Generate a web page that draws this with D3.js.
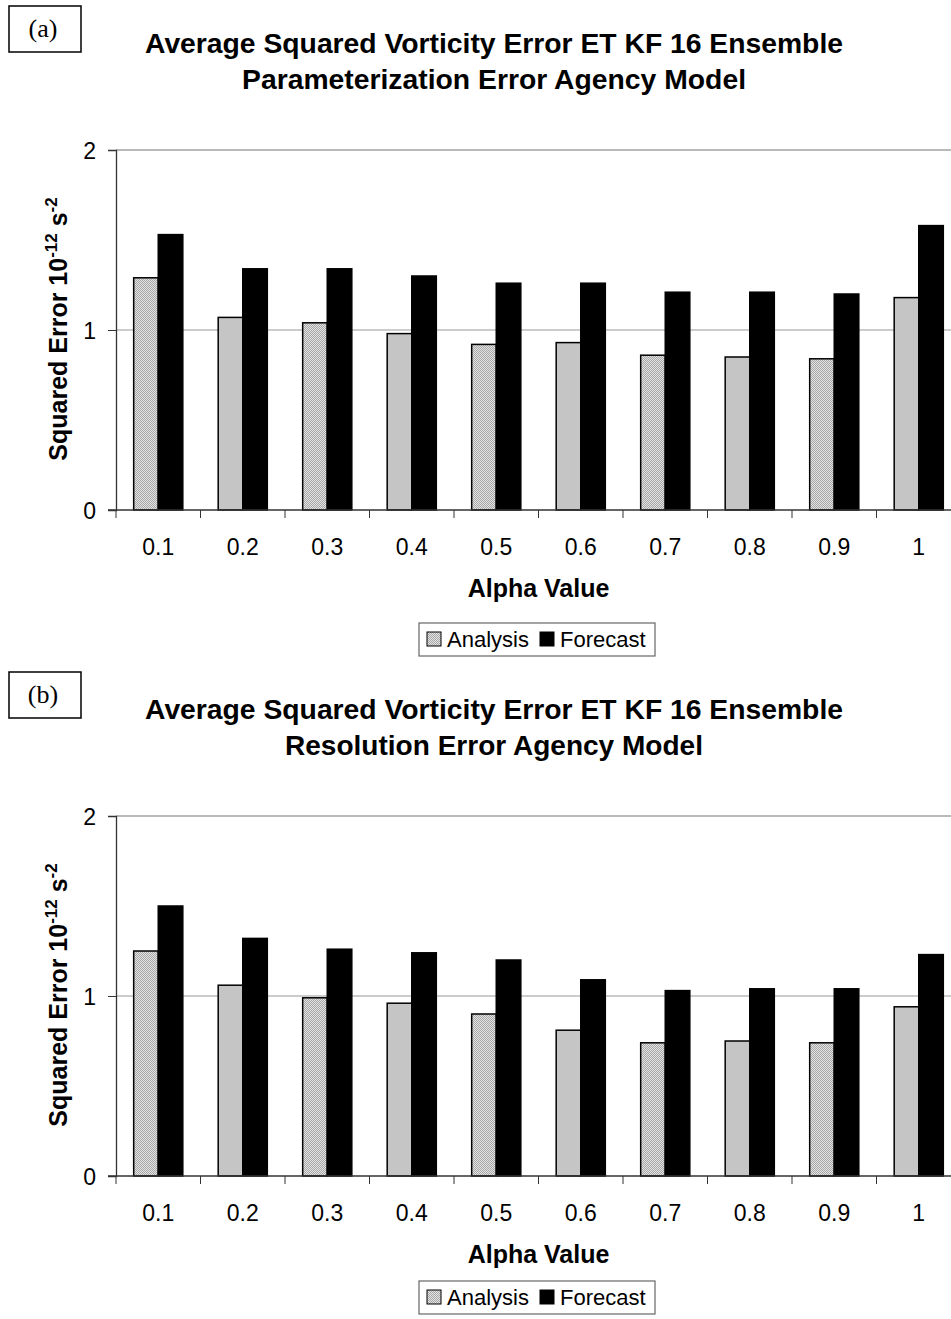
<!DOCTYPE html>
<meta charset="utf-8">
<style>
body { margin: 0; background: white; }
svg { display: block; background: white; }
text { font-family: "Liberation Sans", Arial, sans-serif; fill: black; }
.title { font-size: 28px; font-weight: bold; }
.tick-label { font-size: 23px; }
.axis-title { font-size: 25px; font-weight: bold; }
.ylab { font-size: 25px; font-weight: bold; }
.legend-text { font-size: 22px; }
.panel-tag { font-family: "Liberation Serif", "Times New Roman", serif; font-size: 26px; }
</style>
<body>
<svg width="951" height="1319"></svg>
</body>
<script src="https://d3js.org/d3.v7.min.js"></script>
<script>

// alpha values along the x axis
var alphaValues = ["0.1", "0.2", "0.3", "0.4", "0.5", "0.6", "0.7", "0.8", "0.9", "1"];
var seriesNames = ["Analysis", "Forecast"];
var yTicks = [0, 1, 2];

// (a) parameterization error
var analysisA = [1.29, 1.07, 1.04, 0.98, 0.92, 0.93, 0.86, 0.85, 0.84, 1.18];
var forecastA = [1.53, 1.34, 1.34, 1.30, 1.26, 1.26, 1.21, 1.21, 1.20, 1.58];

// (b) resolution error
var analysisB = [1.25, 1.06, 0.99, 0.96, 0.90, 0.81, 0.74, 0.75, 0.74, 0.94];
var forecastB = [1.50, 1.32, 1.26, 1.24, 1.20, 1.09, 1.03, 1.04, 1.04, 1.23];

var titleLine1 = "Average Squared Vorticity Error ET KF 16 Ensemble";

var svg = d3.select("svg");

// stippled grey fill for the analysis bars
var pat = svg.append("defs").append("pattern")
  .attr("id", "stipple")
  .attr("width", 2).attr("height", 2)
  .attr("patternUnits", "userSpaceOnUse");
pat.append("rect").attr("width", 2).attr("height", 2).attr("fill", "#e2e2e2");
pat.append("rect").attr("width", 1).attr("height", 1).attr("fill", "#a8a8a8");
pat.append("rect").attr("x", 1).attr("y", 1).attr("width", 1).attr("height", 1).attr("fill", "#a8a8a8");

var fills = { "Analysis": "url(#stipple)", "Forecast": "black" };

var plotLeft = 116, plotRight = 961;

function drawPanel(offset, tag, title2, title2Len, analysis, forecast, legendY) {
  var g = svg.append("g").attr("transform", "translate(0," + offset + ")");

  var x0 = d3.scaleBand().domain(alphaValues).range([plotLeft, plotRight]);
  var x1 = d3.scaleBand().domain(seriesNames).range([0, x0.bandwidth()]).paddingOuter(0.72);
  var y = d3.scaleLinear().domain([0, 2]).range([510, 150]);

  // panel tag box
  g.append("rect")
    .attr("x", 9).attr("y", 6).attr("width", 72).attr("height", 46)
    .attr("fill", "none").attr("stroke", "black").attr("stroke-width", 1.5);
  g.append("text").attr("class", "panel-tag")
    .attr("x", 43).attr("y", 37).attr("text-anchor", "middle")
    .text(tag);

  // title
  g.append("text").attr("class", "title")
    .attr("x", 494).attr("y", 53).attr("text-anchor", "middle")
    .attr("textLength", 698).attr("lengthAdjust", "spacingAndGlyphs")
    .text(titleLine1);
  g.append("text").attr("class", "title")
    .attr("x", 494).attr("y", 89).attr("text-anchor", "middle")
    .attr("textLength", title2Len).attr("lengthAdjust", "spacingAndGlyphs")
    .text(title2);

  // gridlines
  g.selectAll(".grid")
    .data(yTicks.filter(function(d) { return d > 0; }))
    .enter().append("line")
      .attr("x1", plotLeft).attr("x2", plotRight)
      .attr("y1", function(d) { return y(d); })
      .attr("y2", function(d) { return y(d); })
      .attr("stroke", function(d) { return d == 2 ? "#777" : "#999"; })
      .attr("stroke-width", 1.2);

  // y axis
  var yAxis = d3.axisLeft(y).tickValues(yTicks).tickSize(8).tickPadding(12).tickFormat(d3.format("d"));
  var ya = g.append("g").attr("transform", "translate(" + plotLeft + ",0)").call(yAxis);
  ya.attr("font-size", null).attr("font-family", null);
  ya.select(".domain").attr("stroke", "#333").attr("stroke-width", 1.3);
  ya.selectAll(".tick line").attr("stroke", "#333");
  ya.selectAll(".tick text").attr("class", "tick-label").attr("dy", "0.35em");

  // bars
  var groups = g.selectAll(".grp")
    .data(alphaValues)
    .enter().append("g")
      .attr("transform", function(d) { return "translate(" + x0(d) + ",0)"; });

  groups.selectAll("rect")
    .data(function(d, i) {
      return [{ s: "Analysis", v: analysis[i] }, { s: "Forecast", v: forecast[i] }];
    })
    .enter().append("rect")
      .attr("x", function(d) { return x1(d.s); })
      .attr("width", x1.bandwidth())
      .attr("y", function(d) { return y(d.v); })
      .attr("height", function(d) { return y(0) - y(d.v); })
      .attr("fill", function(d) { return fills[d.s]; })
      .attr("stroke", "black")
      .attr("stroke-width", 1.5);

  // x axis with ticks between categories
  var xa = g.append("g").attr("transform", "translate(0," + y(0) + ")");
  xa.append("line").attr("x1", plotLeft - 8).attr("x2", plotRight)
    .attr("stroke", "#333").attr("stroke-width", 1.3);
  xa.selectAll(".xt")
    .data(alphaValues)
    .enter().append("line")
      .attr("x1", function(d) { return x0(d); })
      .attr("x2", function(d) { return x0(d); })
      .attr("y1", 0).attr("y2", 8)
      .attr("stroke", "#333");
  xa.selectAll(".xl")
    .data(alphaValues)
    .enter().append("text").attr("class", "tick-label")
      .attr("x", function(d) { return x0(d) + x0.bandwidth() / 2; })
      .attr("y", 45)
      .attr("text-anchor", "middle")
      .text(function(d) { return d; });

  // axis titles
  g.append("text").attr("class", "axis-title")
    .attr("x", (plotLeft + plotRight) / 2).attr("y", 597)
    .attr("text-anchor", "middle")
    .text("Alpha Value");

  var yl = g.append("text").attr("class", "ylab")
    .attr("transform", "translate(67,329) rotate(-90)")
    .attr("text-anchor", "middle");
  yl.append("tspan").text("Squared Error 10");
  yl.append("tspan").attr("font-size", "17px").attr("dy", -10).text("-12");
  yl.append("tspan").attr("dy", 10).text(" s");
  yl.append("tspan").attr("font-size", "17px").attr("dy", -10).text("-2");

  // legend
  var lg = g.append("g").attr("transform", "translate(419," + legendY + ")");
  lg.append("rect").attr("width", 236).attr("height", 33)
    .attr("fill", "white").attr("stroke", "#666").attr("stroke-width", 1.2);
  var items = [{ s: "Analysis", x: 8, tx: 28 }, { s: "Forecast", x: 121, tx: 141 }];
  lg.selectAll(".sw")
    .data(items)
    .enter().append("rect")
      .attr("x", function(d) { return d.x; }).attr("y", 9)
      .attr("width", 14).attr("height", 14)
      .attr("fill", function(d) { return fills[d.s]; })
      .attr("stroke", "black").attr("stroke-width", 1);
  lg.selectAll(".lt")
    .data(items)
    .enter().append("text").attr("class", "legend-text")
      .attr("x", function(d) { return d.tx; }).attr("y", 24)
      .text(function(d) { return d.s; });
}

drawPanel(0, "(a)", "Parameterization Error Agency Model", 504, analysisA, forecastA, 623);
drawPanel(666, "(b)", "Resolution Error Agency Model", 418, analysisB, forecastB, 615);

</script>
